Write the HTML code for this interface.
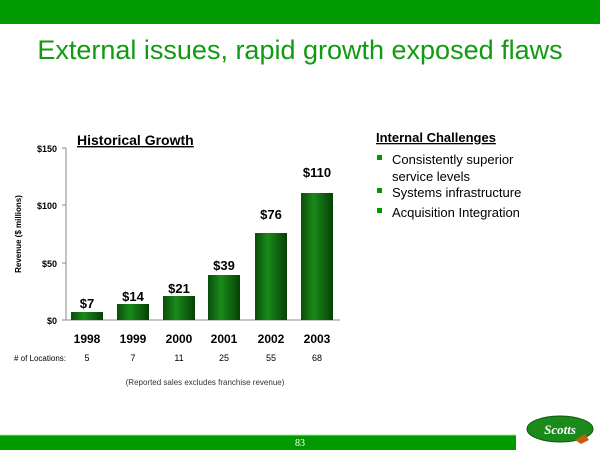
<!DOCTYPE html>
<html><head><style>
body{margin:0;width:600px;height:450px;position:relative;background:#fff;font-family:"Liberation Sans",Arial,sans-serif;overflow:hidden}
.a{position:absolute;white-space:nowrap}
</style></head><body>
<div class="a" style="left:0;top:0;width:600px;height:24px;background:#009900"></div>
<div class="a" style="left:0;top:35px;width:600px;text-align:center;font-size:27px;line-height:30px;color:#129a12">External issues, rapid growth exposed flaws</div>

<svg class="a" style="left:0;top:0" width="600" height="450">
<defs><linearGradient id="g" x1="0" x2="1"><stop offset="0" stop-color="#0a4d0a"/><stop offset="0.4" stop-color="#1a8a1a"/><stop offset="1" stop-color="#064006"/></linearGradient></defs>
<g font-family="Liberation Sans,Arial,sans-serif">
<text x="77" y="145" font-size="14" font-weight="bold" text-decoration="underline">Historical Growth</text>
<line x1="66" y1="148" x2="66" y2="320" stroke="#888"/>
<line x1="66" y1="320" x2="340" y2="320" stroke="#888"/>
<g font-size="9" font-weight="bold" text-anchor="end">
<text x="57" y="152">$150</text><text x="57" y="209">$100</text><text x="57" y="267">$50</text><text x="57" y="324">$0</text>
</g>
<g stroke="#888"><line x1="62" y1="148" x2="66" y2="148"/><line x1="62" y1="205" x2="66" y2="205"/><line x1="62" y1="263" x2="66" y2="263"/><line x1="62" y1="320" x2="66" y2="320"/></g>
<text transform="translate(21,234) rotate(-90)" font-size="8" font-weight="bold" text-anchor="middle">Revenue ($ millions)</text>
<g fill="url(#g)">
<rect x="71" y="312" width="32" height="8"/>
<rect x="117" y="304" width="32" height="16"/>
<rect x="163" y="296" width="32" height="24"/>
<rect x="208" y="275" width="32" height="45"/>
<rect x="255" y="233" width="32" height="87"/>
<rect x="301" y="193" width="32" height="127"/>
</g>
<g font-size="13" font-weight="bold" text-anchor="middle">
<text x="87" y="308">$7</text><text x="133" y="301">$14</text><text x="179" y="293">$21</text><text x="224" y="270">$39</text><text x="271" y="219">$76</text><text x="317" y="177">$110</text>
</g>
<g font-size="12" font-weight="bold" text-anchor="middle">
<text x="87" y="343">1998</text><text x="133" y="343">1999</text><text x="179" y="343">2000</text><text x="224" y="343">2001</text><text x="271" y="343">2002</text><text x="317" y="343">2003</text>
</g>
<g font-size="9" text-anchor="middle">
<text x="40" y="361" font-size="8">#  of Locations:</text>
<text x="87" y="361">5</text><text x="133" y="361">7</text><text x="179" y="361">11</text><text x="224" y="361">25</text><text x="271" y="361">55</text><text x="317" y="361">68</text>
<text x="205" y="385" font-size="8" fill="#333">(Reported sales excludes franchise revenue)</text>
</g>
<text x="376" y="142" font-size="13" font-weight="bold" text-decoration="underline">Internal Challenges</text>
<g fill="#009900"><rect x="377" y="155" width="5" height="5"/><rect x="377" y="188" width="5" height="5"/><rect x="377" y="208" width="5" height="5"/></g>
<g font-size="13"><text x="392" y="164">Consistently superior</text><text x="392" y="181">service levels</text><text x="392" y="197">Systems infrastructure</text><text x="392" y="217">Acquisition Integration</text></g>
<rect x="0" y="435" width="516" height="15" fill="#009900"/>
<line x1="0" y1="435" x2="516" y2="435" stroke="#9be09b"/>
<text x="300" y="446" font-size="10" fill="#fff" text-anchor="middle" font-family="Liberation Serif,serif">83</text>
<ellipse cx="560" cy="429" rx="33" ry="13" fill="#1a8a1a" stroke="#0a5a0a"/>
<text x="560" y="434" font-size="13" font-style="italic" font-weight="bold" fill="#fff" text-anchor="middle" font-family="Liberation Serif,serif">Scotts</text>
<path d="M575 440 l10 -6 l4 6 l-8 4z" fill="#c06010"/>
</g>
</svg>
</body></html>
